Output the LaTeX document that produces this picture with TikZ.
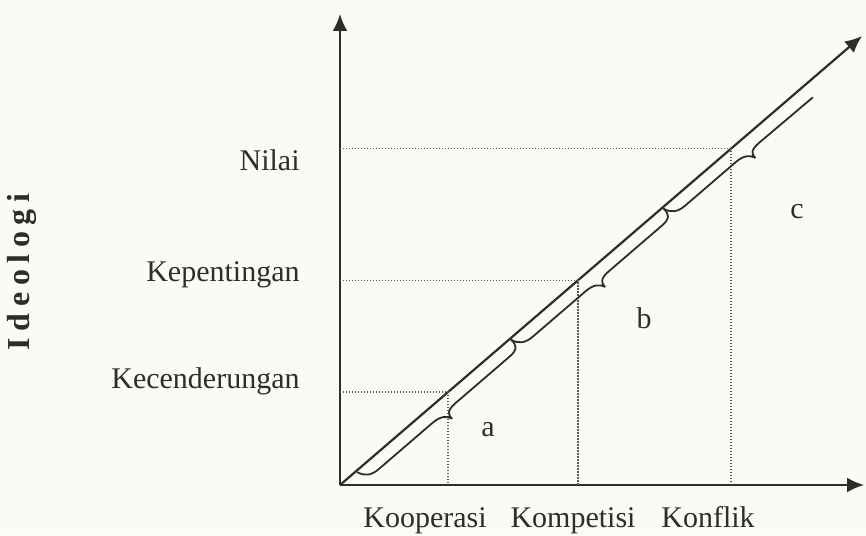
\documentclass[tikz,border=0pt]{standalone}
\usepackage{fontspec}
\setmainfont{Liberation Serif}
\usetikzlibrary{arrows.meta}
\definecolor{paper}{RGB}{251,250,245}
\definecolor{ink}{RGB}{45,45,45}
\newcommand\drawbrace[3]{%
  \draw[brc] ({#1},3) .. controls ({#1+1},16) and ({#1+5},23) .. ({#1+15},23)
    -- ({#2-15},23) .. controls ({#2-4},23) and ({#2-1},30) .. ({#2},39)
    .. controls ({#2+1},30) and ({#2+4},23) .. ({#2+15},23)
    -- ({#3-15},23) .. controls ({#3-5},23) and ({#3-1},16) .. ({#3},3);}
\begin{document}
\begin{tikzpicture}[x=0.5pt,y=-0.5pt,
  ax/.style={line width=1.1pt, draw=ink, -{Latex[length=8.5pt,width=7.5pt]}},
  guide/.style={line width=0.7pt, draw=ink!80, dash pattern=on 0.6pt off 0.9pt},
  lab/.style={font=\fontsize{15}{18}\selectfont, text=ink, inner sep=0pt},
  brc/.style={line width=0.9pt, draw=ink, line join=round, line cap=round}]
\fill[paper] (0,0) rectangle (866,535);
\useasboundingbox (0,0) rectangle (866,535);
% axes
\coordinate (O) at (340,485);
\coordinate (ytip) at (340,14);
\coordinate (xtip) at (864,485);
\coordinate (dtip) at (862,36);
\draw[ax] (O) -- (ytip);
\draw[ax] (O) -- (xtip);
\draw[ax] (O) -- (dtip);
% guide points on diagonal
\coordinate (P1) at (448,392.1);
\coordinate (P2) at (578,280.3);
\coordinate (P3) at (731,148.7);
\coordinate (H1) at (340,392.1);
\coordinate (H2) at (340,280.3);
\coordinate (H3) at (340,148.7);
\coordinate (V1) at (448,485);
\coordinate (V2) at (578,485);
\coordinate (V3) at (731,485);
\draw[guide] (H1) -- (P1) -- (V1);
\draw[guide] (H2) -- (P2) -- (V2);
\draw[guide] (H3) -- (P3) -- (V3);
% braces
\begin{scope}[shift={(340,485)}, x={(0.7582,-0.6520)}, y={(0.6520,0.7582)}]
  \drawbrace{21}{122}{224}
  \drawbrace{224}{324}{425}
  \draw[brc] (425,3) .. controls (426,16) and (430,23) .. (440,23)
    -- (507,23) .. controls (518,23) and (521,30) .. (522,39)
    .. controls (523,30) and (526,24) .. (537,24) -- (607,25);
\end{scope}
% labels
\node[lab, anchor=base east] (nilai) at (300,170) {Nilai};
\node[lab, anchor=base east] (kep) at (300,281) {Kepentingan};
\node[lab, anchor=base east] (kec) at (300,388) {Kecenderungan};
\node[lab, anchor=base] (koop) at (425,527) {Kooperasi};
\node[lab, anchor=base] (komp) at (573,527) {Kompetisi};
\node[lab, anchor=base] (konf) at (708,527) {Konflik};
\node[lab] (la) at (488,430) {a};
\node[lab] (lb) at (644,318) {b};
\node[lab] (lc) at (797,212) {c};
\node[lab, rotate=90, font=\fontsize{16}{19}\selectfont\bfseries] (ideo) at (22,272)
  {I\kern3.3pt d\kern3.3pt e\kern3.3pt o\kern3.3pt l\kern3.3pt o\kern3.3pt g\kern3.3pt i};
\end{tikzpicture}
\end{document}
